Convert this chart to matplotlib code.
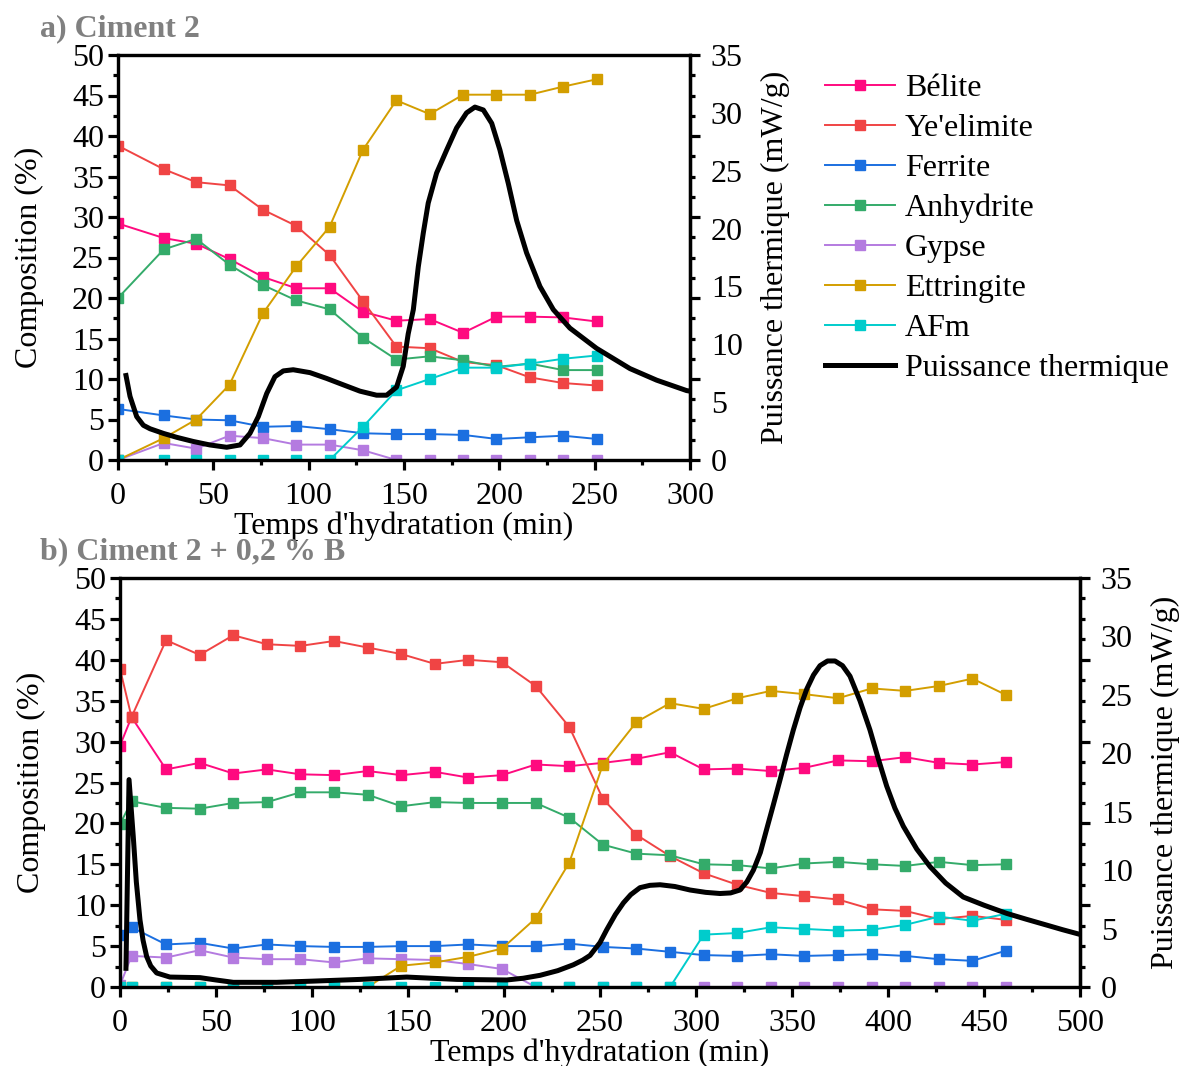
import numpy as np
import matplotlib
matplotlib.use("Agg")
import matplotlib.pyplot as plt
from matplotlib.ticker import MultipleLocator, NullFormatter

plt.rcParams['font.family'] = ['Liberation Serif', 'DejaVu Serif']

# ---------------- données : a) Ciment 2 ----------------
t_a = [0, 24, 41, 58.5, 76, 93.5, 111, 128.5, 146, 163.5, 181, 198.5, 216, 233.5, 251]
belite_a = [29.2, 27.4, 26.7, 24.8, 22.6, 21.2, 21.2, 18.3, 17.2, 17.4, 15.7, 17.7, 17.7, 17.6, 17.1]
yeelimite_a = [38.8, 35.9, 34.3, 33.9, 30.9, 28.9, 25.3, 19.6, 14.0, 13.8, 12.1, 11.7, 10.2, 9.5, 9.2]
ferrite_a = [6.3, 5.5, 5.0, 4.9, 4.1, 4.2, 3.8, 3.3, 3.2, 3.2, 3.1, 2.6, 2.8, 3.0, 2.6]
anhydrite_a = [20.0, 26.0, 27.3, 24.1, 21.6, 19.7, 18.6, 15.1, 12.4, 12.8, 12.3, 11.5, 11.9, 11.1, 11.1]
gypse_a = [0, 2.1, 1.4, 3.0, 2.7, 1.9, 1.9, 1.2, 0, 0, 0, 0, 0, 0, 0]
ettringite_a = [0, 2.7, 5.0, 9.3, 18.1, 23.9, 28.8, 38.3, 44.4, 42.7, 45.1, 45.1, 45.1, 46.1, 47.0]
afm_a = [0, 0, 0, 0, 0, 0, 0, 4.1, 8.6, 10.0, 11.4, 11.4, 11.9, 12.5, 12.9]

flux_t_a = [4.2, 6.3, 9.8, 13.3, 16.8, 23.8, 30.8, 39.5, 48.2, 57, 64, 69.2, 73.6, 78, 82.3,
            86.7, 91.9, 100.7, 109.4, 118.1, 126.9, 135.6, 140.9, 146.1, 149.6, 152.2, 154.9,
            157.5, 160.1, 162.7, 167.1, 172.4, 177.6, 182.8, 187.2, 191.6, 196, 200.3, 204.7,
            209.1, 214.3, 221.3, 228.3, 237, 251, 268.5, 282.5, 298.2, 300]
flux_a = [7.3, 5.5, 3.75, 3.0, 2.7, 2.3, 1.96, 1.6, 1.3, 1.1, 1.3, 2.3, 3.75, 5.75, 7.2,
          7.7, 7.8, 7.55, 7.05, 6.5, 5.95, 5.6, 5.6, 6.3, 8.1, 10.9, 13.0,
          16.7, 19.6, 22.2, 24.8, 26.8, 28.7, 30.0, 30.5, 30.25, 29.1, 26.8, 23.9,
          20.7, 17.9, 15.0, 13.0, 11.4, 9.65, 7.9, 6.9, 6.0, 5.95]

# ---------------- données : b) Ciment 2 + 0,2 % B ----------------
t_b = [0, 6, 24, 41.5, 59, 76.5, 94, 111.5, 129, 146.5, 164, 181.5, 199, 216.5, 234, 251.5,
       269, 286.5, 304, 321.5, 339, 356.5, 374, 391.5, 409, 426.5, 444, 461.5]
belite_b = [29.5, 33.0, 26.6, 27.4, 26.1, 26.6, 26.0, 25.9, 26.4, 25.9, 26.3, 25.6, 25.9, 27.2,
            27.0, 27.4, 27.9, 28.7, 26.6, 26.7, 26.4, 26.8, 27.7, 27.6, 28.1, 27.4, 27.2, 27.5]
yeelimite_b = [38.9, 33.0, 42.4, 40.6, 43.0, 41.9, 41.7, 42.3, 41.5, 40.7, 39.5, 40.0, 39.7, 36.8,
               31.8, 23.0, 18.6, 16.0, 13.9, 12.5, 11.5, 11.1, 10.7, 9.5, 9.3, 8.3, 8.7, 8.2]
ferrite_b = [6.4, 7.3, 5.2, 5.4, 4.7, 5.2, 5.0, 4.9, 4.9, 5.0, 5.0, 5.2, 5.0, 5.0,
             5.3, 4.9, 4.7, 4.3, 3.9, 3.8, 4.0, 3.8, 3.9, 4.0, 3.8, 3.4, 3.2, 4.45]
anhydrite_b = [19.9, 22.7, 21.9, 21.8, 22.5, 22.6, 23.8, 23.8, 23.5, 22.1, 22.6, 22.5, 22.5, 22.5,
               20.7, 17.4, 16.3, 16.1, 15.0, 14.9, 14.5, 15.1, 15.3, 15.0, 14.8, 15.3, 14.9, 15.0]
gypse_b = [0.2, 3.8, 3.6, 4.5, 3.6, 3.4, 3.4, 3.0, 3.5, 3.4, 3.3, 2.8, 2.2, 0,
           0, 0, 0, 0, 0, 0, 0, 0, 0, 0, 0, 0, 0, 0]
ettringite_b = [0, 0, 0, 0, 0, 0, 0, 0, 0, 2.6, 3.0, 3.7, 4.7, 8.4,
                15.2, 27.2, 32.4, 34.7, 34.0, 35.3, 36.2, 35.8, 35.3, 36.5, 36.2, 36.8, 37.7, 35.7]
afm_b = [0, 0, 0, 0, 0, 0, 0, 0, 0, 0, 0, 0, 0, 0,
         0, 0, 0, 0, 6.4, 6.6, 7.3, 7.1, 6.9, 7.0, 7.6, 8.6, 8.1, 8.95]

flux_t_b = [3.1, 4.7, 6.9, 8.5, 10.4, 12, 13.9, 16, 19.1, 26, 41.7, 50, 59, 81.6, 100, 125,
            149.3, 175.4, 201.4, 210, 218.8, 228, 236.1, 241, 244.8, 250, 253.5, 258, 262.2,
            266, 270.8, 276, 281.3, 289, 296.9, 305, 312.5, 318, 322.9, 326.5, 329.9, 333.5,
            336.8, 340.3, 343.8, 347.2, 350.7, 354.2, 357.7, 361.2, 364.6, 368.5, 372.4,
            376.3, 380.2, 385.4, 390.6, 395, 399.3, 403.6, 408, 415, 421.9, 430, 439.2, 450,
            461.8, 472, 482.6, 491, 500]
flux_b = [1.6, 17.75, 12.9, 9.0, 5.75, 4.0, 2.6, 1.8, 1.2, 0.85, 0.8, 0.6, 0.4, 0.4, 0.5, 0.65,
          0.85, 0.65, 0.6, 0.75, 1.0, 1.4, 1.9, 2.3, 2.7, 3.8, 4.9, 6.2, 7.2,
          7.9, 8.5, 8.7, 8.75, 8.6, 8.3, 8.1, 8.0, 8.05, 8.3, 9.0, 10.0, 11.5,
          13.5, 15.6, 17.75, 19.9, 22.0, 23.9, 25.5, 26.7, 27.5, 27.9, 27.9,
          27.5, 26.6, 24.5, 22.0, 19.5, 17.2, 15.3, 13.75, 11.8, 10.3, 8.9, 7.7, 7.0,
          6.3, 5.8, 5.3, 4.9, 4.5]

noms = ['Bélite', "Ye'elimite", 'Ferrite', 'Anhydrite', 'Gypse', 'Ettringite', 'AFm']
couleurs = ['#FF0A7F', '#F04444', '#1B6FE0', '#34AB6A', '#B47BE0', '#D39E00', '#00CCCC']

FS = 23


def style_axes(ax, ax2, xmax):
    for a in (ax, ax2):
        for s in a.spines.values():
            s.set_linewidth(2.3)
    ax.set_xlim(0, xmax)
    ax.set_ylim(0, 50)
    ax2.set_ylim(0, 35)
    ax.xaxis.set_major_locator(MultipleLocator(50))
    ax.xaxis.set_minor_locator(MultipleLocator(25))
    ax.yaxis.set_major_locator(MultipleLocator(5))
    ax.yaxis.set_minor_locator(MultipleLocator(2.5))
    ax.tick_params(which='major', direction='out', length=7, width=2.3, labelsize=FS, pad=3)
    ax.tick_params(which='minor', direction='out', length=3.5, width=2.3)
    ax.tick_params(axis='x', which='major', pad=9)
    ax.tick_params(axis='x', which='both', top=False)
    ax.tick_params(axis='y', which='both', right=False)
    # graduations de droite alignées sur l'échelle de gauche (comme dans Origin)
    sec = ax.secondary_yaxis('right')
    sec.yaxis.set_major_locator(MultipleLocator(10))
    sec.yaxis.set_minor_locator(MultipleLocator(2.5))
    sec.yaxis.set_major_formatter(NullFormatter())
    sec.tick_params(which='major', direction='out', length=7, width=2.3)
    sec.tick_params(which='minor', direction='out', length=3.5, width=2.3)
    sec.spines['right'].set_linewidth(2.3)
    ax2.yaxis.set_major_locator(MultipleLocator(5))
    ax2.tick_params(axis='y', which='both', length=0, labelsize=FS, pad=15)
    ax.set_xlabel("Temps d'hydratation (min)", fontsize=FS, labelpad=0)
    ax.set_ylabel('Composition (%)', fontsize=FS, labelpad=20)
    ax2.set_ylabel('Puissance thermique (mW/g)', fontsize=FS, labelpad=13)


def tracer(ax, ax2, t, series, ft, flux):
    lignes = []
    for nom, val, c in zip(noms, series, couleurs):
        l, = ax.plot(t, val, '-s', color=c, lw=1.4, ms=7, label=nom)
        lignes.append(l)
    lf, = ax2.plot(ft, flux, '-', color='black', lw=3.6, label='Puissance thermique')
    lignes.append(lf)
    return lignes


fig = plt.figure(figsize=(11.83, 10.66), dpi=100)

ax_a = fig.add_axes([118 / 1183, 1 - 460 / 1066, (690 - 118) / 1183, (460 - 55) / 1066])
ax_a2 = ax_a.twinx()
lignes = tracer(ax_a, ax_a2, t_a,
                [belite_a, yeelimite_a, ferrite_a, anhydrite_a, gypse_a, ettringite_a, afm_a],
                flux_t_a, flux_a)
style_axes(ax_a, ax_a2, 300)

ax_b = fig.add_axes([120 / 1183, 1 - 987 / 1066, (1080 - 120) / 1183, (987 - 578) / 1066])
ax_b2 = ax_b.twinx()
tracer(ax_b, ax_b2, t_b,
       [belite_b, yeelimite_b, ferrite_b, anhydrite_b, gypse_b, ettringite_b, afm_b],
       flux_t_b, flux_b)
style_axes(ax_b, ax_b2, 500)

fig.text(40 / 1183, 1 - 29 / 1066, 'a) Ciment 2', fontsize=FS, fontweight='bold',
         color='#808080', va='center', ha='left')
fig.text(40 / 1183, 1 - 552 / 1066, 'b) Ciment 2 + 0,2 % B', fontsize=FS, fontweight='bold',
         color='#808080', va='center', ha='left')

fig.legend(handles=lignes, loc='upper left', bbox_to_anchor=(825 / 1183, 1 - 74 / 1066),
           frameon=False, fontsize=FS, handlelength=2.2, handletextpad=0.3,
           labelspacing=0.33, borderpad=0, borderaxespad=0)

fig.savefig('out.png', dpi=100)
